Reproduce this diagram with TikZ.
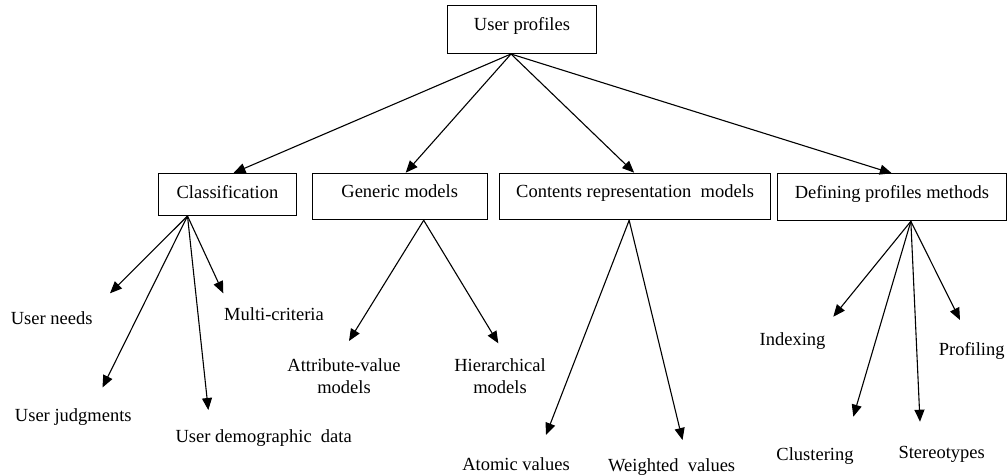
\documentclass[tikz,border=0pt]{standalone}
\usepackage{fontspec}
\setmainfont{Liberation Serif}
\usetikzlibrary{arrows.meta}
\begin{document}
\begin{tikzpicture}[x=1pt,y=-1pt,
  boxnode/.style={draw, line width=1pt, inner xsep=0pt, inner ysep=0pt, anchor=north west,
    font=\fontsize{18.5}{22}\selectfont},
  leaf/.style={inner sep=0pt, anchor=base, align=center, font=\fontsize{18.5}{22}\selectfont},
  conn/.style={line width=1.1pt, -{Triangle[length=12pt,width=10pt]}}
]
\path[use as bounding box] (0,0) rectangle (1008,474);

% boxes
\node[boxnode, minimum width=149pt, text height=25pt, text depth=23pt] (up) at (447,5) {User profiles};
\node[boxnode, minimum width=138pt, text height=25pt, text depth=17pt] (cls) at (158,173) {Classification};
\node[boxnode, minimum width=175pt, text height=24.6pt, text depth=22pt] (gen) at (311.7,172.7) {Generic models};
\node[boxnode, minimum width=270.7pt, text height=24.6pt, text depth=22pt] (con) at (499.3,172.7) {Contents representation\ \ models};
\node[boxnode, minimum width=229.3pt, text height=25pt, text depth=22pt] (def) at (776.7,173.3) {Defining profiles methods};

% leaf labels
\node[leaf] (un) at (51.7,324) {User needs};
\node[leaf] (uj) at (73.3,421) {User judgments};
\node[leaf] (ud) at (263.7,442) {User demographic\ \ data};
\node[leaf] (mc) at (274,320) {Multi-criteria};
\node[leaf] (av) at (344,393) {Attribute-value\\models};
\node[leaf] (hm) at (500,393) {Hierarchical\\models};
\node[leaf] (at) at (516,470) {Atomic values};
\node[leaf] (wv) at (671.7,471) {Weighted\ \ values};
\node[leaf] (ix) at (792.5,345) {Indexing};
\node[leaf] (cl) at (815,460) {Clustering};
\node[leaf] (st) at (941.7,458) {Stereotypes};
\node[leaf] (pr) at (971.7,355) {Profiling};

% arrow tips
\coordinate (tUN) at (110,293.3);
\coordinate (tUJ) at (102.5,387.5);
\coordinate (tUD) at (208.3,410);
\coordinate (tMC) at (223.3,293.3);
\coordinate (tAV) at (349,341);
\coordinate (tHM) at (498.3,343.3);
\coordinate (tAT) at (546,435);
\coordinate (tWV) at (682.5,440);
\coordinate (tIX) at (833.3,316.7);
\coordinate (tCL) at (853.3,416.7);
\coordinate (tST) at (920,421.7);
\coordinate (tPR) at (960,320);

% top level
\draw[conn] ([xshift=-11pt]up.south) -- ([xshift=6pt]cls.north);
\draw[conn] ([xshift=-11pt]up.south) -- ([xshift=6pt]gen.north);
\draw[conn] ([xshift=-11pt]up.south) -- ([xshift=-1pt]con.north);
\draw[conn] ([xshift=-11pt]up.south) -- (def.north);

% classification
\draw[conn] ([xshift=-40pt]cls.south) -- (tUN);
\draw[conn] ([xshift=-40pt]cls.south) -- (tUJ);
\draw[conn] ([xshift=-40pt]cls.south) -- (tUD);
\draw[conn] ([xshift=-40pt]cls.south) -- (tMC);

% generic
\draw[conn] ([xshift=24pt]gen.south) -- (tAV);
\draw[conn] ([xshift=24pt]gen.south) -- (tHM);

% contents
\draw[conn] ([xshift=-6pt]con.south) -- (tAT);
\draw[conn] ([xshift=-6pt]con.south) -- (tWV);

% defining
\draw[conn] ([xshift=19pt]def.south) -- (tIX);
\draw[conn] ([xshift=19pt]def.south) -- (tCL);
\draw[conn] ([xshift=19pt]def.south) -- (tST);
\draw[conn] ([xshift=19pt]def.south) -- (tPR);
\end{tikzpicture}
\end{document}
